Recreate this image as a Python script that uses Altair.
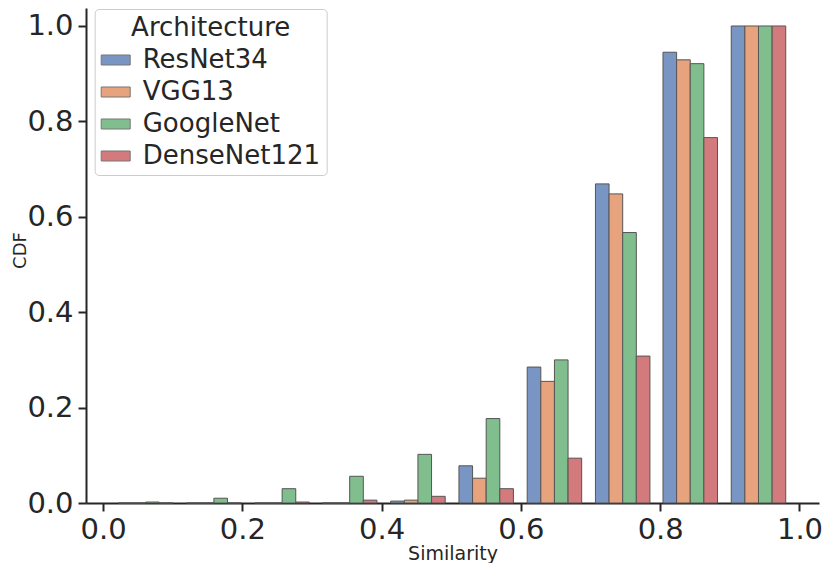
import altair as alt
import pandas as pd

architectures = ["ResNet34", "VGG13", "GoogleNet", "DenseNet121"]
bin_starts = [0.022, 0.120, 0.218, 0.315, 0.413, 0.511, 0.609, 0.707, 0.804, 0.902]
bin_width = 0.0978
shrink = 0.8

resnet34 = [0.0, 0.0, 0.0, 0.0, 0.004, 0.078, 0.285, 0.669, 0.945, 1.0]
vgg13 = [0.0, 0.0, 0.0, 0.0, 0.006, 0.052, 0.255, 0.648, 0.929, 1.0]
googlenet = [0.002, 0.010, 0.030, 0.056, 0.102, 0.177, 0.300, 0.567, 0.921, 1.0]
densenet121 = [0.0, 0.0, 0.002, 0.006, 0.014, 0.030, 0.094, 0.308, 0.766, 1.0]

colors = ["#7995C4", "#E6A37D", "#80BE8E", "#D37A7D"]
x_ticks = [0.0, 0.2, 0.4, 0.6, 0.8, 1.0]
y_ticks = [0.0, 0.2, 0.4, 0.6, 0.8, 1.0]

series = [resnet34, vgg13, googlenet, densenet121]
bar_w = bin_width * shrink / len(architectures)
rows = []
for i, (name, vals) in enumerate(zip(architectures, series)):
    for k, v in enumerate(vals):
        x0 = bin_starts[k] + i * bar_w
        rows.append({"Architecture": name, "x0": x0, "x1": x0 + bar_w, "cdf": v, "order": i})
df = pd.DataFrame(rows)

FONT = "DejaVu Sans"
TXT = "#262626"

rect_path = "M-1,-0.345L1,-0.345L1,0.345L-1,0.345Z"

chart = alt.Chart(df).mark_bar(stroke="#555555", strokeWidth=1).encode(
    x=alt.X("x0:Q",
            scale=alt.Scale(domain=[-0.0245, 1.028], nice=False, zero=False),
            axis=alt.Axis(title="Similarity", values=x_ticks, format=".1f",
                          labelFlush=False, labelOverlap=False,
                          titleFontSize=19,
                          titleY=56, titleBaseline="alphabetic")),
    x2="x1:Q",
    y=alt.Y("cdf:Q",
            scale=alt.Scale(domain=[0, 1.0377], nice=False),
            axis=alt.Axis(title="CDF", values=y_ticks, format=".1f",
                          labelFlush=False, labelOverlap=False,
                          titleFontSize=18,
                          titleAngle=270, titleBaseline="alphabetic",
                          titleAlign="center", titleX=-61, titleY=242)),
    y2=alt.datum(0),
    color=alt.Color("Architecture:N",
                    scale=alt.Scale(domain=architectures, range=colors),
                    legend=alt.Legend(title="Architecture", orient="none",
                                      legendX=8.7, legendY=1,
                                      fillColor="white", strokeColor="#cccccc",
                                      cornerRadius=4, padding=6,
                                      titleFontSize=26, titleFont=FONT,
                                      titleFontWeight="normal", titleColor=TXT,
                                      titleAnchor="middle", titlePadding=4,
                                      labelFontSize=26, labelFont=FONT, labelColor=TXT,
                                      labelLimit=400,
                                      symbolType=rect_path, symbolSize=841,
                                      symbolStrokeColor="#777777", symbolStrokeWidth=1,
                                      symbolOpacity=1,
                                      labelOffset=12, rowPadding=4)),
    order=alt.Order("order:Q"),
).properties(
    width=733, height=495,
    autosize=alt.AutoSizeParams(type="none"),
    padding={"left": 78, "top": 0, "right": 4, "bottom": 60},
).configure_view(strokeWidth=0).configure_axis(
    grid=False,
    domainColor=TXT, domainWidth=2,
    tickColor=TXT, tickWidth=2, tickSize=8,
    labelFont=FONT, labelFontSize=29, labelColor=TXT, labelPadding=4,
    titleFont=FONT, titleFontWeight="normal", titleColor=TXT,
).configure_axisY(labelPadding=5)

chart.save("out.html", embed_options={"renderer": "svg", "actions": False})
